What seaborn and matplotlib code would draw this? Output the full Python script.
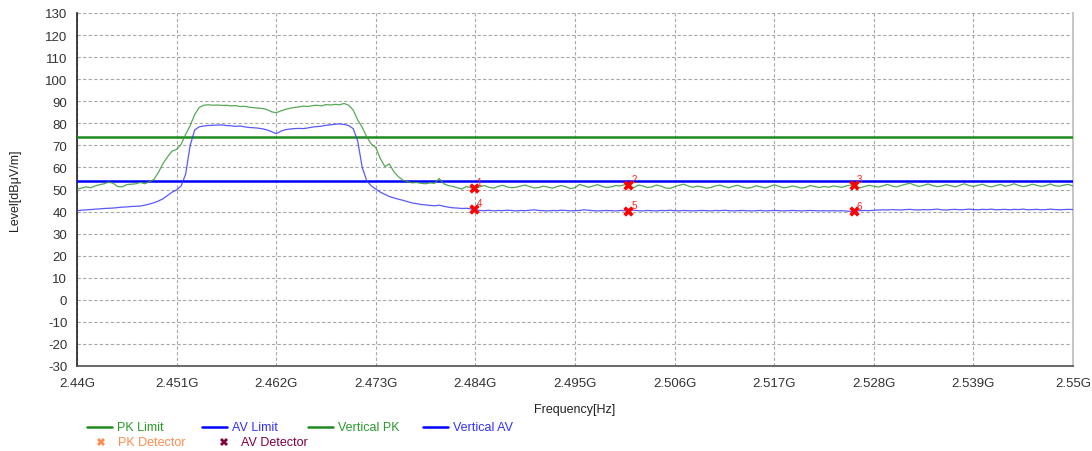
import numpy as np
import pandas as pd
import matplotlib
matplotlib.use("Agg")
import matplotlib.pyplot as plt
from matplotlib.lines import Line2D
import seaborn as sns

# limits (dBuV/m)
pk_limit = 74
av_limit = 54

# trace sampled every 0.5 MHz from 2440 to 2550 MHz
freq_mhz = np.arange(2440.0, 2550.01, 0.5)

vertical_pk = [
    50.2, 50.6, 51.2, 50.8, 51.6, 52.2, 52.6, 53.4, 52.8, 51.3,
    51.2, 52.2, 52.4, 52.6, 53.2, 52.6, 53.6, 54.6, 57.8, 61.8,
    64.8, 67.4, 68.2, 70.5, 75.0, 79.0, 84.0, 87.2, 88.2, 88.4,
    88.2, 88.3, 88.1, 88.2, 87.9, 88.0, 87.6, 87.7, 87.3, 87.1,
    86.9, 86.7, 86.2, 85.2, 84.8, 85.6, 86.3, 86.8, 87.2, 87.4,
    87.8, 87.6, 88.0, 88.2, 87.9, 88.5, 88.3, 88.6, 88.4, 89.0,
    88.2, 86.0, 81.5, 78.2, 73.8, 70.6, 69.0, 64.0, 60.4, 61.6,
    58.0, 55.8, 54.2, 53.6, 53.0, 53.2, 52.8, 52.6, 53.0, 52.8,
    55.0, 52.6, 51.8, 51.4, 50.8, 50.2, 51.4, 50.7,
    50.6, 51.2, 51.8, 51.0, 50.6, 51.4, 51.9, 51.2, 50.8, 51.0,
    51.6, 52.0, 51.3, 50.7, 50.9, 51.5, 51.1, 50.6, 51.3, 51.8,
    51.2, 50.4, 50.8, 52.3, 51.7, 51.0, 51.6, 52.2, 51.4, 50.9,
    51.2, 51.8, 51.6, 52.2, 51.4, 50.9, 52.0, 51.6, 50.9, 51.2,
    52.0, 51.5, 50.7, 50.5, 51.3, 51.9, 52.4, 51.6, 51.0, 51.5,
    51.2, 50.6, 50.9, 51.6, 52.0, 51.3, 50.8, 51.5, 51.9, 51.1,
    50.6, 50.9, 51.7, 51.2, 50.7, 51.4, 52.1, 51.5, 50.8, 51.0,
    51.6, 51.2, 50.6, 51.0, 51.8, 51.3, 50.9, 51.4, 51.0, 51.6,
    51.3, 51.0, 51.7, 52.0, 51.2, 50.8, 51.4, 51.9, 51.5, 51.1,
    51.7, 52.3, 51.6, 51.2, 51.8, 52.4, 52.8, 52.0, 51.4, 51.9,
    52.5, 51.8, 51.3, 51.6, 52.2, 51.7, 51.2, 51.9, 52.6, 51.8,
    51.4, 51.9, 52.4, 51.6, 51.2, 51.8, 52.3, 51.5, 51.9, 52.6,
    51.8, 51.3, 51.7, 52.4, 51.9, 51.4, 51.8, 52.5, 51.7, 51.5,
    52.0, 52.3, 51.6,
]

vertical_av = [
    40.4, 40.6, 40.8, 40.9, 41.1, 41.2, 41.4, 41.5, 41.6, 41.8,
    42.0, 42.1, 42.3, 42.4, 42.5, 42.9, 43.4, 44.0, 44.8, 45.8,
    47.3, 48.8, 49.8, 51.6, 57.0, 70.0, 77.0, 78.4, 78.8, 79.0,
    79.1, 79.2, 79.3, 79.0, 78.9, 78.6, 78.8, 78.4, 78.1, 78.0,
    77.8, 77.5, 77.0, 76.2, 75.3, 76.4, 77.1, 77.4, 77.6, 77.7,
    77.6, 77.9, 78.3, 78.5, 78.7, 79.1, 79.3, 79.6, 79.7, 79.5,
    79.0, 77.6, 72.0, 60.0, 54.0, 51.6, 50.2, 48.8, 47.8, 46.8,
    46.2, 45.6, 45.1, 44.5, 43.9, 43.6, 43.2, 43.0, 42.8, 42.6,
    42.9, 42.4, 42.0, 41.7, 41.6, 41.4, 41.5, 41.2,
    40.7, 40.5, 40.4, 40.6, 40.3, 40.5, 40.4, 40.6, 40.5, 40.3,
    40.5, 40.4, 40.6, 40.8, 40.5, 40.4, 40.3, 40.5, 40.4, 40.6,
    40.5, 40.3, 40.4, 40.5, 40.8, 40.6, 40.4, 40.3, 40.4, 40.5,
    40.4, 40.3, 40.5, 40.4, 40.5, 40.6, 40.4, 40.3, 40.5, 40.4,
    40.3, 40.5, 40.4, 40.6, 40.4, 40.3, 40.5, 40.4, 40.3, 40.4,
    40.5, 40.4, 40.3, 40.5, 40.4, 40.6, 40.4, 40.3, 40.4, 40.5,
    40.4, 40.3, 40.4, 40.5, 40.3, 40.4, 40.5, 40.4, 40.3, 40.4,
    40.5, 40.4, 40.3, 40.4, 40.5, 40.4, 40.3, 40.4, 40.3, 40.4,
    40.3, 40.4, 40.2, 40.1, 40.3, 40.4, 40.5, 40.4, 40.6, 40.7,
    40.8, 40.7, 40.9, 40.8, 40.7, 40.9, 41.0, 40.8, 40.7, 40.9,
    40.8, 40.9, 41.1, 40.8, 40.7, 40.9, 41.0, 40.8, 40.9, 41.1,
    40.9, 40.8, 41.0, 40.9, 41.1, 40.8, 40.9, 41.0, 40.8, 41.0,
    40.9, 41.1, 40.8, 40.9, 41.0, 40.8, 40.9, 41.1, 40.9, 40.8,
    40.9, 41.0, 40.9,
]

# detector markers
marker_ids = ["1", "2", "3", "4", "5", "6"]
marker_freq = [2483.8, 2500.9, 2525.8, 2483.8, 2500.9, 2525.8]
marker_level = [50.7, 52.2, 52.0, 41.2, 40.4, 40.1]

x_ticks = [2440, 2451, 2462, 2473, 2484, 2495, 2506, 2517, 2528, 2539, 2550]
x_tick_labels = ["2.44G", "2.451G", "2.462G", "2.473G", "2.484G", "2.495G",
                 "2.506G", "2.517G", "2.528G", "2.539G", "2.55G"]

df = pd.DataFrame({"freq": freq_mhz, "pk": vertical_pk, "av": vertical_av})
mk = pd.DataFrame({"freq": marker_freq, "level": marker_level, "id": marker_ids})

sns.set_theme(style="white")
plt.rcParams["font.family"] = ["Liberation Sans", "DejaVu Sans"]
plt.rcParams["axes.unicode_minus"] = False

W, H = 1092, 452
fig = plt.figure(figsize=(W / 100, H / 100), dpi=100)
ax = fig.add_axes([77 / W, 1 - 367 / H, 996 / W, 353 / H])

pk_limit_color = "#1e8c1e"
av_limit_color = "#0000ff"
pk_color = "#3a9a3a"
av_color = "#3c3cff"

ax.axhline(pk_limit, color=pk_limit_color, lw=1.8, zorder=3)
ax.axhline(av_limit, color=av_limit_color, lw=1.8, zorder=3)
sns.lineplot(data=df, x="freq", y="pk", ax=ax, color=pk_color, lw=0.9, alpha=0.85, zorder=4)
sns.lineplot(data=df, x="freq", y="av", ax=ax, color=av_color, lw=0.9, alpha=0.85, zorder=4)
sns.scatterplot(data=mk, x="freq", y="level", ax=ax, marker="X", color="#ff0000",
                s=55, linewidth=0, zorder=5)
for _, r in mk.iterrows():
    ax.annotate(r["id"], (r["freq"], r["level"]), xytext=(2, 2), textcoords="offset points",
                color="#ff2020", fontsize=7, zorder=6)

ax.set_xlim(2440, 2550)
ax.set_ylim(-30, 130)
ax.set_xticks(x_ticks)
ax.set_xticklabels(x_tick_labels)
ax.set_yticks(range(-30, 131, 10))
ax.grid(True, color="#a8a8a8", lw=0.8, ls=(0, (3, 2)))
ax.tick_params(axis="both", labelsize=9.5, colors="#333333", length=5, width=1.2,
               direction="out", pad=2)
ax.tick_params(axis="x", pad=3)
ax.spines["top"].set_visible(False)
ax.spines["right"].set_color("#c0c0c0")
ax.spines["left"].set_color("#202020")
ax.spines["left"].set_linewidth(1.2)
ax.spines["bottom"].set_color("#505050")
ax.spines["bottom"].set_linewidth(1.2)

ax.set_xlabel("Frequency[Hz]", fontsize=9, color="#222222", labelpad=10)
ax.set_ylabel("Level[dBμV/m]", fontsize=9, color="#222222", labelpad=17)

# legend drawn by hand to match the spacing of the original
legend_row1 = [("PK Limit", pk_limit_color, "#2a9a2a", 87),
               ("AV Limit", av_limit_color, "#3030ff", 202),
               ("Vertical PK", pk_limit_color, "#2a9a2a", 308),
               ("Vertical AV", av_limit_color, "#3030ff", 423)]
y1 = 1 - 428 / H
for label, lc, tc, x0 in legend_row1:
    fig.add_artist(Line2D([x0 / W, (x0 + 25) / W], [y1, y1], color=lc, lw=1.8,
                          transform=fig.transFigure))
    fig.text((x0 + 30) / W, y1, label, color=tc, fontsize=9, va="center", ha="left")

legend_row2 = [("PK Detector", "#ff8c50", 101),
               ("AV Detector", "#800040", 224)]
y2 = 1 - 443 / H
for label, c, x0 in legend_row2:
    fig.add_artist(Line2D([x0 / W], [y2], ls="none", marker="X", color=c, markersize=6,
                          markeredgewidth=0, transform=fig.transFigure))
    fig.text((x0 + 17) / W, y2, label, color=c, fontsize=9, va="center", ha="left")

fig.savefig("out.png", dpi=100)
